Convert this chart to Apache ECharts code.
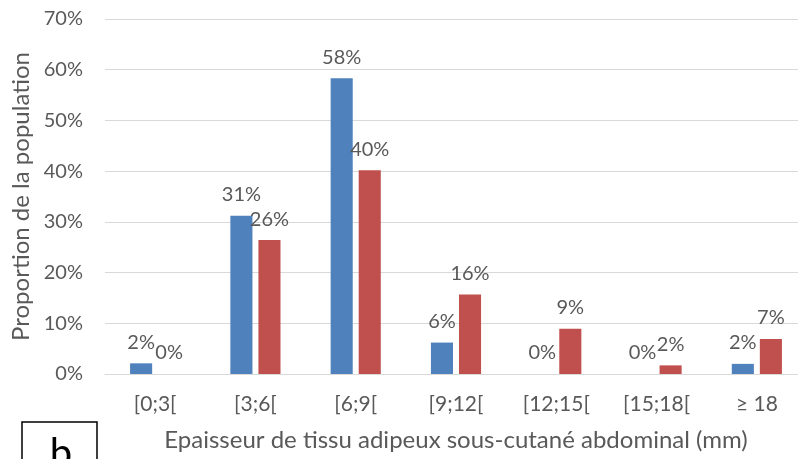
<!DOCTYPE html>
<html>
<head>
<meta charset="utf-8">
<script src="https://cdn.jsdelivr.net/npm/echarts@6/dist/echarts.min.js"></script>
<style>
  html, body { margin: 0; padding: 0; background: #fff; }
  #chart { width: 798px; height: 459px; }
</style>
</head>
<body>
<div id="chart"></div>
<script>
// tranches d'épaisseur (mm)
var categories = ['[0;3[', '[3;6[', '[6;9[', '[9;12[', '[12;15[', '[15;18[', '≥ 18']
// proportions (%)
var serieBleue = [2.1, 31.2, 58.3, 6.2, 0, 0, 2.0]
var serieRouge = [0, 26.4, 40.2, 15.7, 8.9, 1.7, 6.9]
var yTicks = { min: 0, max: 70, interval: 10 }

var txt = '#595959'
var font = 'Lato'

var chart = echarts.init(document.getElementById('chart'))

function label() {
  return {
    show: true,
    position: 'top',
    distance: 11,
    color: txt,
    fontFamily: font,
    fontSize: 20,
    formatter: function (p) {
      return Math.round(p.value) + '%'
    },
  }
}

chart.setOption({
  animation: false,
  textStyle: { fontFamily: font },
  grid: {
    left: 105,
    right: -9,
    top: 19,
    bottom: 85,
    outerBoundsMode: 'none',
  },
  xAxis: {
    type: 'category',
    data: categories,
    name: 'Epaisseur de tissu adipeux sous-cutané abdominal (mm)',
    nameLocation: 'middle',
    nameGap: 54,
    nameTextStyle: { color: txt, fontSize: 24, fontFamily: font },
    axisLine: { lineStyle: { color: '#d9d9d9', width: 1 } },
    axisTick: { show: false },
    axisLabel: { color: txt, fontSize: 21, margin: 20, fontFamily: font },
  },
  yAxis: {
    type: 'value',
    min: yTicks.min,
    max: yTicks.max,
    interval: yTicks.interval,
    name: 'Proportion de la population',
    nameLocation: 'middle',
    nameGap: 72,
    nameTextStyle: { color: txt, fontSize: 24, fontFamily: font },
    axisLine: { show: false },
    axisTick: { show: false },
    axisLabel: {
      color: txt,
      fontSize: 20,
      margin: 22,
      fontFamily: font,
      formatter: '{value}%',
    },
    splitLine: { lineStyle: { color: '#d9d9d9', width: 1 } },
  },
  series: [
    {
      type: 'bar',
      data: serieBleue,
      barGap: '27%',
      barCategoryGap: '50%',
      itemStyle: { color: '#4f81bd' },
      label: label(),
    },
    {
      type: 'bar',
      data: serieRouge,
      itemStyle: { color: '#c0504d' },
      label: label(),
    },
  ],
  graphic: [
    {
      type: 'rect',
      shape: { x: 22, y: 422, width: 75, height: 60 },
      style: { fill: '#fff', stroke: '#000', lineWidth: 1.5 },
    },
    {
      type: 'text',
      x: 61,
      y: 434,
      style: {
        text: 'b',
        fill: '#000',
        fontSize: 40,
        fontFamily: font,
        align: 'center',
        verticalAlign: 'top',
      },
    },
  ],
})
</script>
</body>
</html>
